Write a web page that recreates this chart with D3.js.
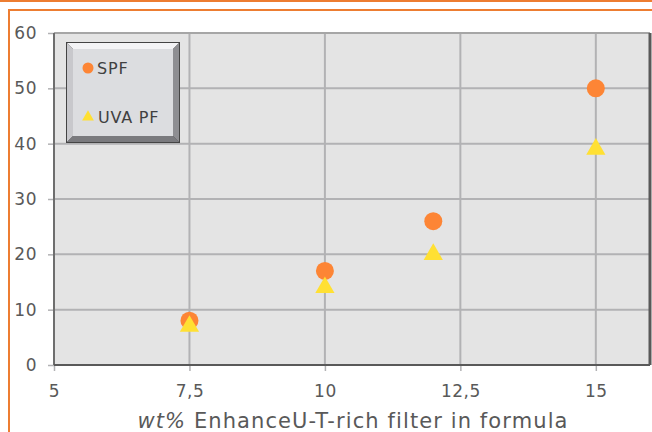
<!DOCTYPE html>
<html><head><meta charset="utf-8">
<script src="https://cdn.jsdelivr.net/npm/d3@7"></script>
<style>body{margin:0;background:#fff;}svg{display:block;font-family:"DejaVu Sans",sans-serif;}</style>
</head><body>
<svg id="c" width="652" height="432"></svg>
<script>
const xValues = [7.5, 10, 12, 15];
const spfValues = [8, 17, 26, 50];
const uvaValues = [7, 14, 20, 39];
const xTicks = [5, 7.5, 10, 12.5, 15];
const yTicks = [0, 10, 20, 30, 40, 50, 60];
const seriesNames = ["SPF", "UVA PF"];
const xTitleItalic = "wt%";
const xTitleRest = " EnhanceU-T-rich filter in formula";

const svg = d3.select("#c");
const W = 652, H = 432;
const orange = "#ed7d31";
const m = {l: 54, r: 650, t: 33, b: 365};
const font = "'DejaVu Sans',sans-serif";

// frame
svg.append("rect").attr("x",0).attr("y",0).attr("width",W).attr("height",2).attr("fill",orange);
svg.append("rect").attr("x",8).attr("y",9).attr("width",W-8).attr("height",2).attr("fill",orange);
svg.append("rect").attr("x",8).attr("y",9).attr("width",2).attr("height",H-9).attr("fill",orange);

const x = d3.scaleLinear().domain([5,16]).range([m.l, m.r]);
const y = d3.scaleLinear().domain([0,60]).range([m.b, m.t]);

svg.append("rect").attr("x",m.l).attr("y",m.t).attr("width",m.r-m.l).attr("height",m.b-m.t).attr("fill","#e4e4e4");

// grid
svg.append("g").selectAll("line").data(yTicks.slice(1)).join("line")
  .attr("x1",m.l).attr("x2",m.r).attr("y1",d=>y(d)).attr("y2",d=>y(d))
  .attr("stroke","#b2b2b4").attr("stroke-width",2);
svg.append("g").selectAll("line").data(xTicks.slice(1)).join("line")
  .attr("y1",m.t).attr("y2",m.b).attr("x1",d=>x(d)).attr("x2",d=>x(d))
  .attr("stroke","#b2b2b4").attr("stroke-width",2);

// axes
const ya = d3.axisLeft(y).tickValues(yTicks).tickSize(6).tickPadding(11);
const gy = svg.append("g").attr("transform",`translate(${m.l},0)`).call(ya);
const xa = d3.axisBottom(x).tickValues(xTicks).tickSize(6).tickPadding(14).tickFormat(d=>String(d).replace(".",","));
const gx = svg.append("g").attr("transform",`translate(0,${m.b})`).call(xa);
[gy,gx].forEach(g=>{
  g.select(".domain").remove();
  g.selectAll("line").attr("stroke","#b2b2b4").attr("stroke-width",1.5);
  g.selectAll("text").attr("fill","#595959").style("font-size","17px").style("font-family",font).style("letter-spacing","0.5px");
});

// border
svg.append("line").attr("x1",m.l).attr("x2",m.r).attr("y1",m.t).attr("y2",m.t).attr("stroke","#a6a6a6").attr("stroke-width",2);
svg.append("line").attr("x1",m.l).attr("x2",m.l).attr("y1",m.t).attr("y2",m.b).attr("stroke","#6e6e6e").attr("stroke-width",2);
svg.append("line").attr("x1",m.l).attr("x2",m.r).attr("y1",m.b).attr("y2",m.b).attr("stroke","#595959").attr("stroke-width",2);
svg.append("line").attr("x1",m.r).attr("x2",m.r).attr("y1",m.t).attr("y2",m.b).attr("stroke","#595959").attr("stroke-width",3);

// points
const tri = d3.symbol().type(d3.symbolTriangle);
svg.append("g").selectAll("circle").data(xValues).join("circle")
  .attr("cx",d=>x(d)).attr("cy",(d,i)=>y(spfValues[i])).attr("r",9).attr("fill","#fd8535");
svg.append("g").selectAll("path").data(xValues).join("path")
  .attr("d",tri.size(160)).attr("transform",(d,i)=>`translate(${x(d)},${y(uvaValues[i])})`).attr("fill","#ffe033");

// legend (beveled box)
const lx=67, ly=43, lw=112, lh=99, b=6;
const lg = svg.append("g");
lg.append("rect").attr("x",lx-1).attr("y",ly-1).attr("width",lw+2).attr("height",lh+2).attr("fill","#444");
lg.append("polygon").attr("points",`${lx},${ly} ${lx+lw},${ly} ${lx+lw-b},${ly+b} ${lx+b},${ly+b}`).attr("fill","#f4f4f6");
lg.append("polygon").attr("points",`${lx},${ly} ${lx+b},${ly+b} ${lx+b},${ly+lh-b} ${lx},${ly+lh}`).attr("fill","#c8c8cc");
lg.append("polygon").attr("points",`${lx+lw},${ly} ${lx+lw},${ly+lh} ${lx+lw-b},${ly+lh-b} ${lx+lw-b},${ly+b}`).attr("fill","#8e8e92");
lg.append("polygon").attr("points",`${lx},${ly+lh} ${lx+lw},${ly+lh} ${lx+lw-b},${ly+lh-b} ${lx+b},${ly+lh-b}`).attr("fill","#7a7a7e");
lg.append("rect").attr("x",lx+b).attr("y",ly+b).attr("width",lw-2*b).attr("height",lh-2*b).attr("fill","#dcdde0");
const legY=[68,117];
lg.append("circle").attr("cx",88).attr("cy",legY[0]).attr("r",5.5).attr("fill","#fd8535");
lg.append("path").attr("d",tri.size(60)).attr("transform",`translate(88,${legY[1]})`).attr("fill","#ffe033");
lg.selectAll("text").data(seriesNames).join("text")
  .attr("x",(d,i)=>i===0?97:98).attr("y",(d,i)=>legY[i]+6)
  .attr("fill","#404040").style("font-size","16px").style("letter-spacing","0.8px").text(d=>d);

// x title
const t = svg.append("text").attr("x",353).attr("y",428).attr("text-anchor","middle")
  .attr("fill","#595959").style("font-size","21px").style("letter-spacing","1.1px");
t.append("tspan").style("font-style","italic").text(xTitleItalic);
t.append("tspan").text(xTitleRest);
</script>
</body></html>
